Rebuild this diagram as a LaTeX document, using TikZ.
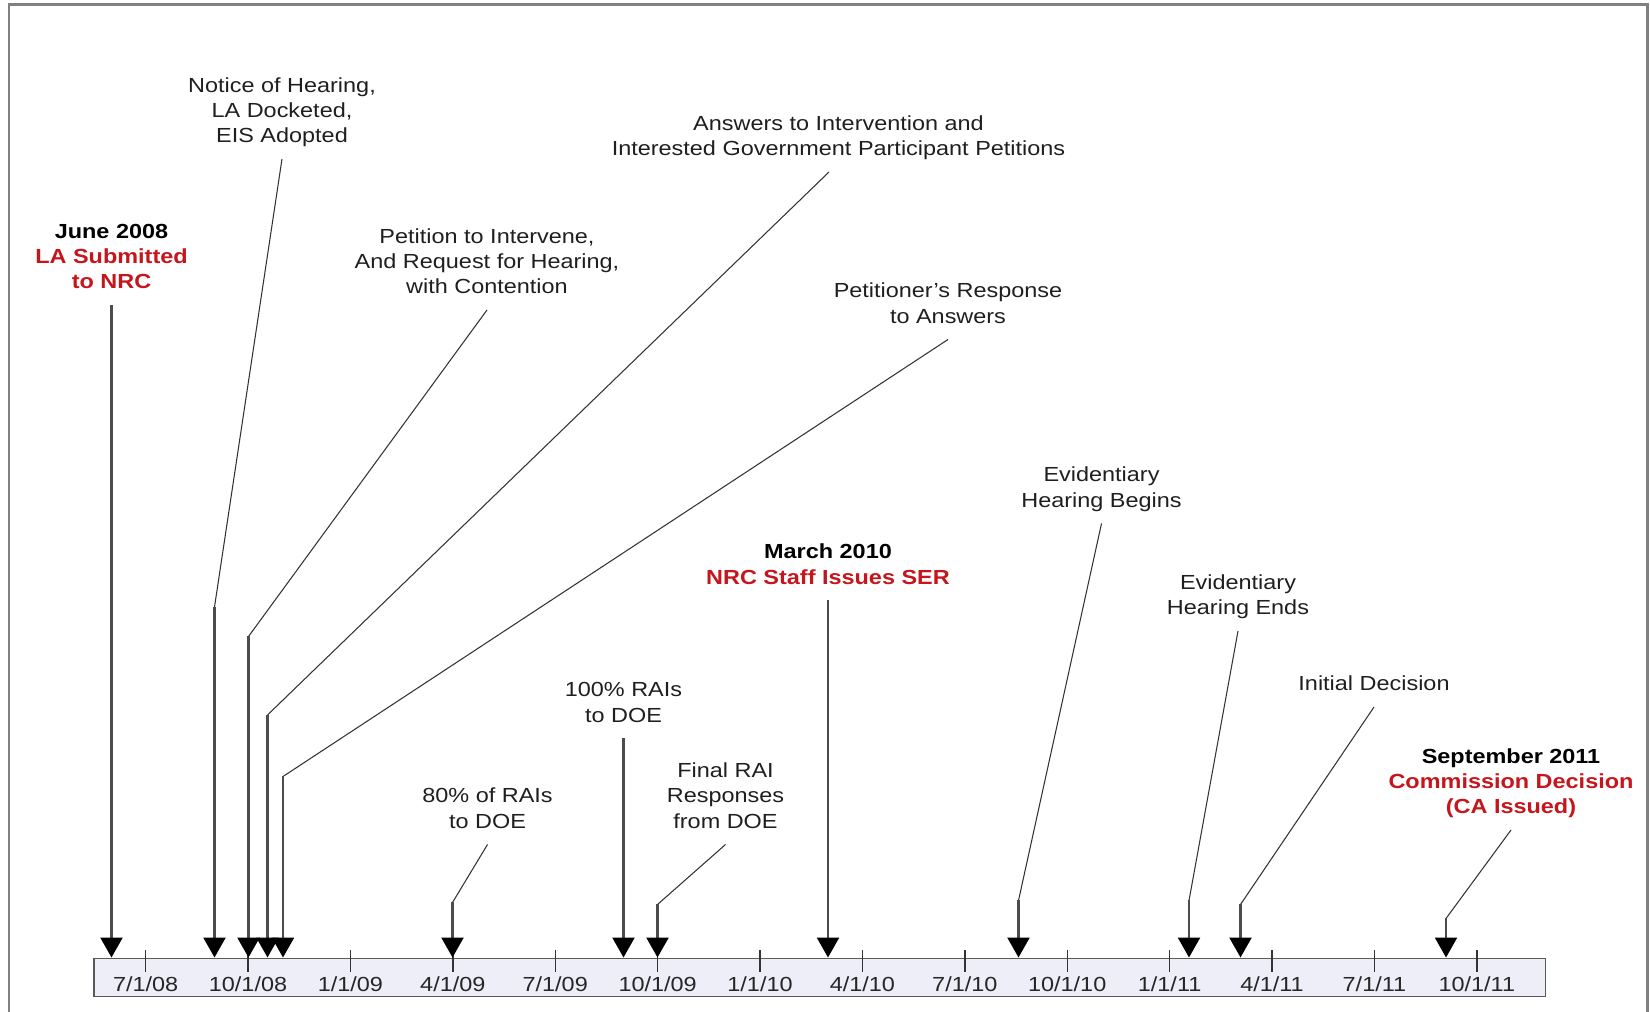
\documentclass[tikz,border=0pt]{standalone}
\usepackage{fontspec}
\setmainfont{Liberation Sans}[FakeStretch=1.15]
\usetikzlibrary{arrows.meta}
\definecolor{nrcred}{HTML}{C4161C}
\definecolor{barfill}{HTML}{EEEEF8}

\begin{document}
\begin{tikzpicture}[
  event/.style={above, align=center, inner xsep=0pt, inner ysep=4.75pt, text=black!88, font=\fontsize{11.6}{14.4}\selectfont, execute at end node=\strut},
  keyevent/.style={event, text=black, font=\fontsize{11.6}{14.4}\selectfont\bfseries},
  lead/.style={line width=0.6pt, draw=black!80},
  drop/.style={line width=1.3pt, draw=black!70, -{Triangle[length=4mm, width=4.4mm, color=black]}},
  datelabel/.style={font=\fontsize{11.6}{14.4}\selectfont, text=black!85, inner sep=0pt}
]
\useasboundingbox (0,0) rectangle (33,20.24);
% outer frame, open at the bottom
\draw[line width=1.2pt, black!50] (0.18,0) -- (0.18,20.15) -- (32.95,20.15) -- (32.95,0);

% time line
\node[draw=black!65, line width=1.1pt, fill=barfill, minimum width=29.03cm, minimum height=0.76cm, inner sep=0pt] (bar) at (16.395,0.69) {};
\foreach \d [count=\i from 0] in {7/1/08, 10/1/08, 1/1/09, 4/1/09, 7/1/09, 10/1/09, 1/1/10, 4/1/10, 7/1/10, 10/1/10, 1/1/11, 4/1/11, 7/1/11, 10/1/11} {
  \draw[line width=0.8pt, black!80] (2.912+2.048*\i,1.23) -- (2.912+2.048*\i,0.79);
  \node[datelabel] (d\i) at (2.912+2.048*\i,0.56) {\d};
}

% events
\node[keyevent] (jun08) at (2.23,14.14) {June 2008\\\textcolor{nrcred}{LA Submitted}\\\textcolor{nrcred}{to NRC}};
\node[event] (notice) at (5.64,17.06) {Notice of Hearing,\\LA Docketed,\\EIS Adopted};
\node[event] (petition) at (9.74,14.04) {Petition to Intervene,\\And Request for Hearing,\\with Contention};
\node[event] (answers) at (16.77,16.80) {Answers to Intervention and\\Interested Government Participant Petitions};
\node[event] (response) at (18.96,13.45) {Petitioner's Response\\to Answers};
\node[event] (rai80) at (9.75,3.35) {80\% of RAIs\\to DOE};
\node[event] (rai100) at (12.47,5.47) {100\% RAIs\\to DOE};
\node[event] (finalrai) at (14.51,3.35) {Final RAI\\Responses\\from DOE};
\node[keyevent] (mar10) at (16.56,8.23) {March 2010\\\textcolor{nrcred}{NRC Staff Issues SER}};
\node[event] (hbegin) at (22.03,9.77) {Evidentiary\\Hearing Begins};
\node[event] (hend) at (24.76,7.62) {Evidentiary\\Hearing Ends};
\node[event] (initial) at (27.48,6.10) {Initial Decision};
\node[keyevent] (sep11) at (30.22,3.64) {September 2011\\\textcolor{nrcred}{Commission Decision}\\\textcolor{nrcred}{(CA Issued)}};

% bends where the leaders turn down to the time line
\coordinate (notice-b) at (4.29,8.10);
\coordinate (petition-b) at (4.97,7.51);
\coordinate (answers-b) at (5.35,5.94);
\coordinate (response-b) at (5.66,4.71);
\coordinate (rai80-b) at (9.05,2.19);
\coordinate (finalrai-b) at (13.15,2.15);
\coordinate (hbegin-b) at (20.37,2.23);
\coordinate (hend-b) at (23.78,2.23);
\coordinate (initial-b) at (24.81,2.15);
\coordinate (sep11-b) at (28.92,1.87);

\draw[drop] (jun08.south) -- (jun08.south |- bar.north);
\draw[lead] (notice.south) -- (notice-b);
\draw[drop] (notice-b) -- (notice-b |- bar.north);
\draw[lead] (petition.south) -- (petition-b);
\draw[drop] (petition-b) -- (petition-b |- bar.north);
\draw[lead] ([xshift=-1.9mm]answers.south) -- (answers-b);
\draw[drop] (answers-b) -- (answers-b |- bar.north);
\draw[lead] (response.south) -- (response-b);
\draw[drop] (response-b) -- (response-b |- bar.north);
\draw[lead] (rai80.south) -- (rai80-b);
\draw[drop] (rai80-b) -- (rai80-b |- bar.north);
\draw[drop] (rai100.south) -- (rai100.south |- bar.north);
\draw[lead] (finalrai.south) -- (finalrai-b);
\draw[drop] (finalrai-b) -- (finalrai-b |- bar.north);
\draw[drop] (mar10.south) -- (mar10.south |- bar.north);
\draw[lead] (hbegin.south) -- (hbegin-b);
\draw[drop] (hbegin-b) -- (hbegin-b |- bar.north);
\draw[lead] (hend.south) -- (hend-b);
\draw[drop] (hend-b) -- (hend-b |- bar.north);
\draw[lead] (initial.south) -- (initial-b);
\draw[drop] (initial-b) -- (initial-b |- bar.north);
\draw[lead] (sep11.south) -- (sep11-b);
\draw[drop] (sep11-b) -- (sep11-b |- bar.north);
\end{tikzpicture}
\end{document}
